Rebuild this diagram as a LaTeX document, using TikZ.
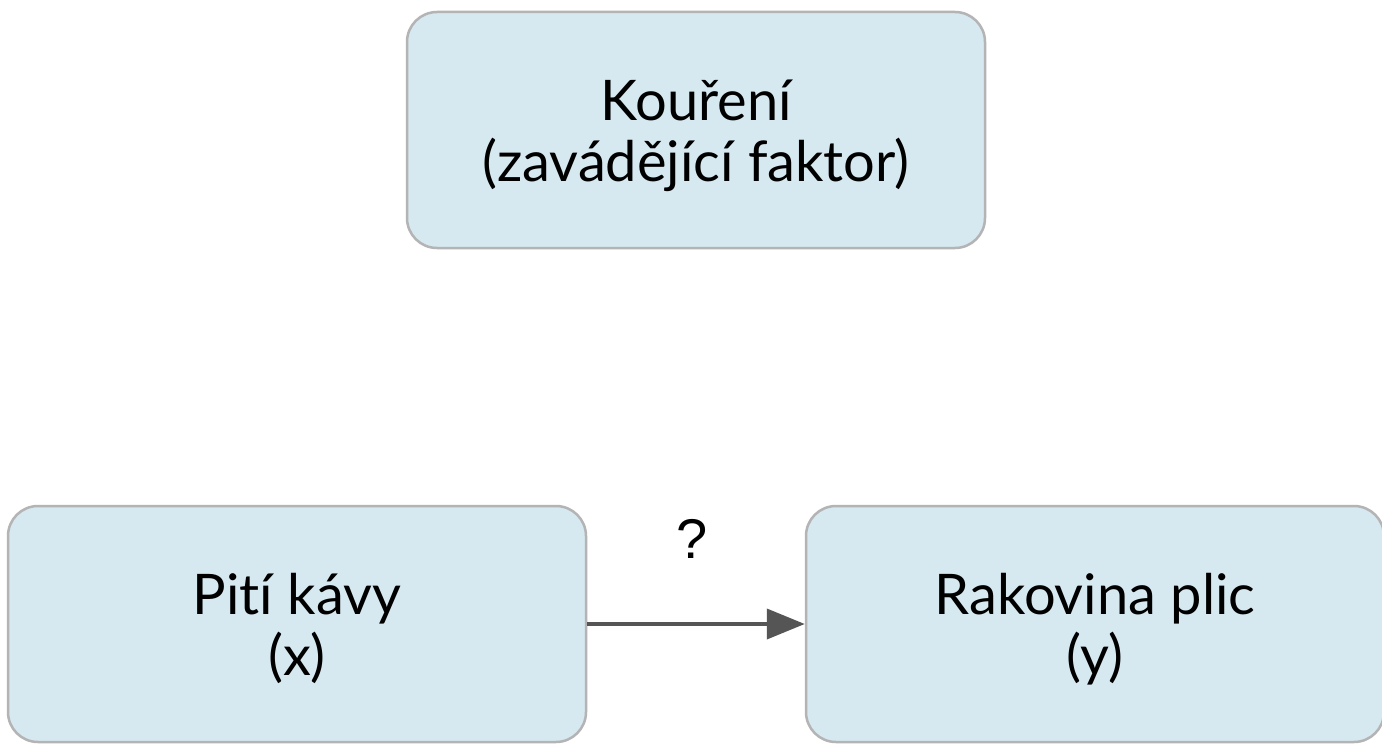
\documentclass[tikz,border=0pt]{standalone}
\usepackage{fontspec}
\setmainfont[Ligatures=NoCommon]{Lato}
\newfontfamily\qfont{Liberation Sans}
\usetikzlibrary{arrows.meta}
\definecolor{boxfill}{HTML}{D6E8F0}
\definecolor{boxline}{HTML}{B4B4B4}
\definecolor{arrowc}{HTML}{555555}
\newcommand{\boxtext}[2]{\smash{\raisebox{-15pt}{\begin{tabular}{@{}c@{}}#1\\#2\end{tabular}}}}
\tikzset{
  bx/.style={draw=boxline, line width=2.5pt, fill=boxfill, rounded corners=30pt,
    minimum width=578pt, minimum height=236pt, inner sep=0pt,
    font=\fontsize{56}{61}\selectfont, text=black},
  conn/.style={draw=arrowc, line width=4pt, -{Triangle[length=38pt,width=30pt]}}
}
\begin{document}
\begin{tikzpicture}[x=1pt,y=-1pt]
\useasboundingbox (0,0) rectangle (1382,752);
\fill[white] (0,0) rectangle (1382,752);
\node[bx] (k) at (696,130) {\boxtext{Kouření}{(zavádějící faktor)}};
\node[bx] (x) at (297,624) {\boxtext{Pit\kern0pt í kávy}{(x)}};
\node[bx] (y) at (1095,624) {\boxtext{Rakovina plic}{(y)}};
\draw[conn] (x.east) -- (y.west) node[midway, anchor=base, yshift=66pt, xshift=-4pt, font=\qfont\fontsize{56}{60}\selectfont, text=black, inner sep=0pt] (q) {?};
\end{tikzpicture}
\end{document}
